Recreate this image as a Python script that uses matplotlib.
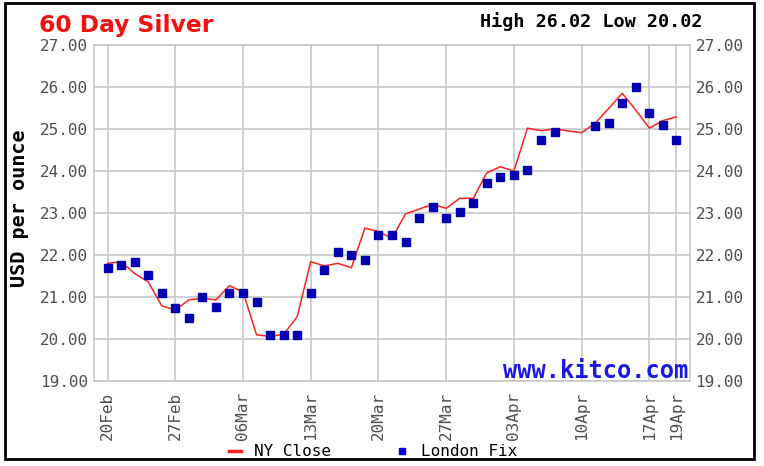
import numpy as np
import pandas as pd
import matplotlib as mpl
import matplotlib.pyplot as plt
from matplotlib.lines import Line2D
from matplotlib.patches import Rectangle

mpl.use('Agg')

# trading days shown on the x axis (one slot per weekday)
trade_days = pd.bdate_range('2023-02-20', '2023-04-19')
tick_labels = ['20Feb', '27Feb', '06Mar', '13Mar', '20Mar', '27Mar',
               '03Apr', '10Apr', '17Apr', '19Apr']

nan = np.nan
ny_close = [21.80, 21.84, 21.56, 21.36, 20.79, 20.69, 20.93, 20.97, 20.93, 21.27,
            21.12, 20.10, 20.06, 20.11, 20.53, 21.84, 21.74, 21.80, 21.70, 22.64,
            22.56, 22.40, 22.98, 23.09, 23.21, 23.11, 23.35, 23.35, 23.96, 24.10,
            24.00, 25.02, 24.96, 25.00, nan, 24.91, 25.14, 25.49, 25.85, 25.45,
            25.02, 25.20, 25.29]
london_fix = [21.68, 21.76, 21.84, 21.52, 21.09, 20.73, 20.49, 21.01, 20.77, 21.09,
              21.09, 20.89, 20.10, 20.10, 20.10, 21.09, 21.64, 22.08, 22.00, 21.88,
              22.48, 22.48, 22.32, 22.87, 23.15, 22.87, 23.03, 23.23, 23.71, 23.86,
              23.90, 24.02, 24.74, 24.92, nan, nan, 25.06, 25.14, 25.61, 26.01,
              25.37, 25.10, 24.74]
y_ticks = [19, 20, 21, 22, 23, 24, 25, 26, 27]

W, H = 764, 466
fig = plt.figure(figsize=(W / 100, H / 100), dpi=100)
ax = fig.add_axes([94 / W, 1 - 381 / H, (690 - 94) / W, (381 - 45) / H])

idx = np.arange(len(trade_days))
ny = np.array(ny_close)
lf = np.array(london_fix)
ny_ok = ~np.isnan(ny)
lf_ok = ~np.isnan(lf)

grid_col = '#c8c8c8'
lab_col = '#505050'
ax.plot(idx[ny_ok], ny[ny_ok], color='#ff2020', lw=1.1, zorder=3)
ax.plot(idx[lf_ok], lf[lf_ok], ls='none', marker='s', ms=5.4,
        color='#0000b0', mec='#0000b0', zorder=4)

# ticks at each Monday plus the last day
tick_idx = [i for i, d in enumerate(trade_days) if d.weekday() == 0]
tick_idx.append(len(trade_days) - 1)

ax.set_xlim(-1, len(trade_days))
ax.set_ylim(19, 27)
ax.set_xticks(tick_idx)
ax.set_xticklabels(tick_labels, rotation=90, family='DejaVu Sans Mono',
                   fontsize=11.5, color=lab_col, va='top')
ax.set_yticks(y_ticks)
ax.set_yticklabels(['%.2f' % v for v in y_ticks], family='DejaVu Sans Mono',
                   fontsize=11.5, color=lab_col)
ax.tick_params(axis='y', length=0, pad=8, labelright=True, right=False)
ax.tick_params(axis='x', length=0, pad=8)
for t in ax.yaxis.get_major_ticks():
    t.label2.set_fontfamily('DejaVu Sans Mono')
    t.label2.set_fontsize(11.5)
    t.label2.set_color(lab_col)
    t.set_pad(4)
ax.grid(True, color=grid_col, lw=1.2)
ax.set_axisbelow(True)
for s in ax.spines.values():
    s.set_color(grid_col)
    s.set_linewidth(1.2)

ax.text(0.997, 0.01, 'www.kitco.com', transform=ax.transAxes, ha='right',
        va='baseline', family='DejaVu Sans Mono', fontweight='bold',
        fontsize=17, color='#1a1ae6', zorder=5)

# header texts
fig.text(39 / W, 1 - 32 / H, '60 Day Silver', ha='left', va='baseline',
         family='DejaVu Sans', fontweight='bold', fontsize=16.8, color='#f51010')
fig.text(703 / W, 1 - 27 / H, 'High 26.02 Low 20.02', ha='right', va='baseline',
         family='DejaVu Sans Mono', fontweight='bold', fontsize=13.3, color='black')
fig.text(20 / W, 1 - 208 / H, 'USD per ounce', rotation=90, ha='center',
         va='center', family='DejaVu Sans Mono', fontweight='bold',
         fontsize=14.5, color='black')

# legend drawn under the axis labels
ly = 1 - 451 / H
fig.add_artist(Line2D([229 / W, 241 / W], [ly, ly], color='#ff2020', lw=2.5,
                      transform=fig.transFigure))
fig.text(254 / W, ly, 'NY Close', ha='left', va='center',
         family='DejaVu Sans Mono', fontsize=11.5, color='black')
fig.add_artist(Line2D([402 / W], [ly], marker='s', ms=4.5, color='#0000e0',
                      ls='none', transform=fig.transFigure))
fig.text(421 / W, ly, 'London Fix', ha='left', va='center',
         family='DejaVu Sans Mono', fontsize=11.5, color='black')

# outer frame
fig.patches.append(Rectangle((5 / W, 1 - 459 / H), 749 / W, 456 / H,
                             transform=fig.transFigure, fill=False,
                             ec='black', lw=2))

fig.savefig('out.png', dpi=100)
